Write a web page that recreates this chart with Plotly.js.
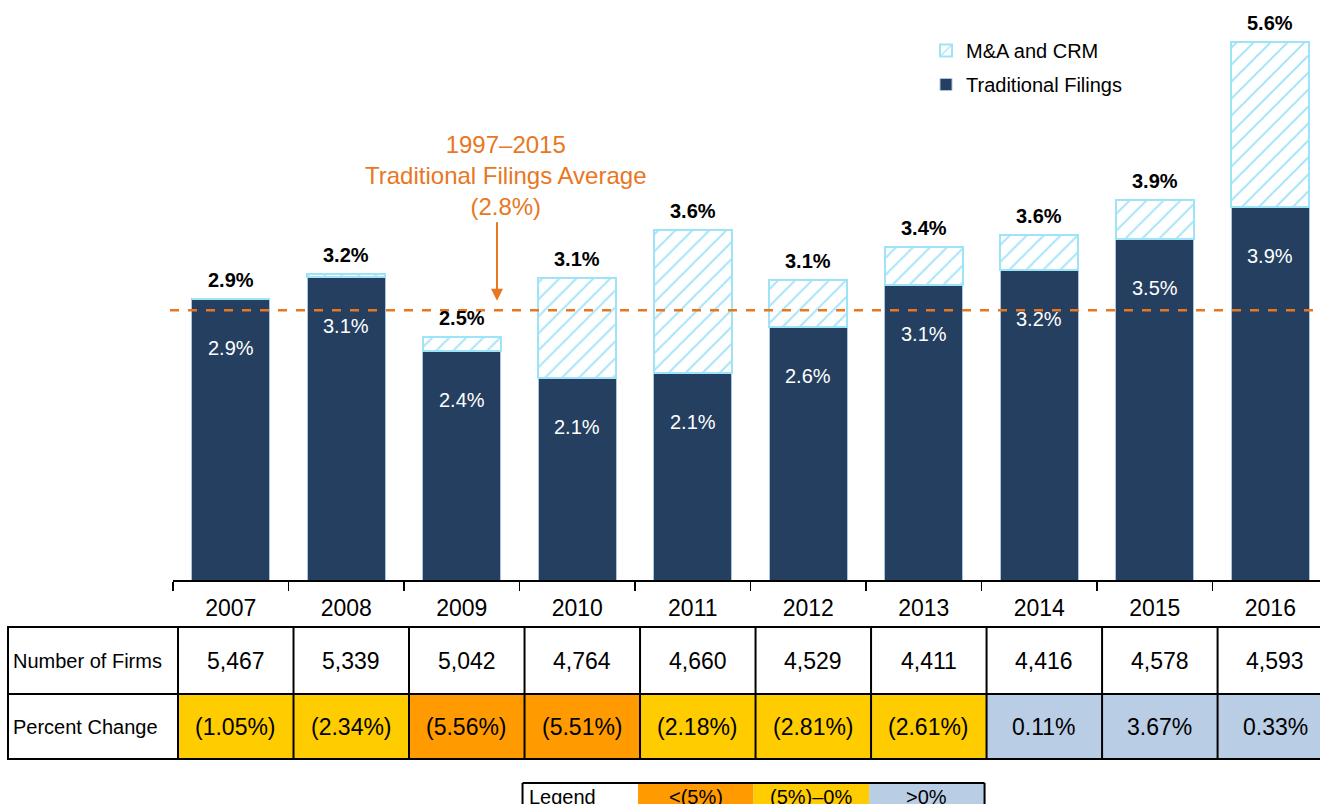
<!DOCTYPE html>
<html>
<head>
<meta charset="utf-8">
<script src="https://cdn.plot.ly/plotly-3.0.1.min.js"></script>
<style>html,body{margin:0;padding:0;background:#fff;}#chart{width:1320px;height:804px;}</style>
</head>
<body>
<div id="chart"></div>
<script>
// ---- data ----
var years = ['2007','2008','2009','2010','2011','2012','2013','2014','2015','2016'];
var traditionalPct = [2.92, 3.15, 2.38, 2.10, 2.15, 2.63, 3.06, 3.22, 3.54, 3.87];
var mnaCrmPct = [0.00, 0.03, 0.14, 1.04, 1.48, 0.49, 0.40, 0.36, 0.41, 1.72];
var traditionalLabels = ['2.9%','3.1%','2.4%','2.1%','2.1%','2.6%','3.1%','3.2%','3.5%','3.9%'];
var totalLabels = ['2.9%','3.2%','2.5%','3.1%','3.6%','3.1%','3.4%','3.6%','3.9%','5.6%'];
var numberOfFirms = ['5,467','5,339','5,042','4,764','4,660','4,529','4,411','4,416','4,578','4,593'];
var percentChange = [-1.05, -2.34, -5.56, -5.51, -2.18, -2.81, -2.61, 0.11, 3.67, 0.33];
var percentChangeLabels = ['(1.05%)','(2.34%)','(5.56%)','(5.51%)','(2.18%)','(2.81%)','(2.61%)','0.11%','3.67%','0.33%'];
var averageTraditional = 2.8;
var legendLabels = ['Legend','<(5%)','(5%)–0%','>0%'];

// ---- styling / geometry ----
var FONT = 'Liberation Sans, Arial, sans-serif';
var NAVY = '#253f60', HATCH = '#9fe3f8', ORANGE = '#e8771f';
var C_LOW = '#ff9a00', C_MID = '#ffcc00', C_POS = '#b9cde5';
var W = 1320, H = 804, mL = 173, mR = 0, mT = 20, mB = 224;
var xr = [-0.5, 9.43];
var plotH = H - mT - mB, plotW = W - mL - mR;
var yr = [0, plotH / 96.3];
function xp(v){ return (v - xr[0]) / (xr[1] - xr[0]); }      // data x -> paper
function xpx(px){ return (px - mL) / plotW; }                  // pixel -> paper x
function ypx(py){ return (H - mB - py) / plotH; }              // pixel -> paper y
function colorFor(v){ return v <= -5 ? C_LOW : (v < 0 ? C_MID : C_POS); }

var totals = traditionalPct.map(function(v,i){ return v + mnaCrmPct[i]; });

var traces = [
  {type:'bar', x: years, y: traditionalPct, name:'Traditional Filings', legendgroup:'trad', legendrank: 2,
   marker:{color: NAVY, line:{color:'#a9c4e0', width:1}}, width:0.675, hoverinfo:'skip'},
  {type:'bar', x: years, y: mnaCrmPct, name:'M&A and CRM', legendgroup:'mna', legendrank: 1,
   marker:{color:'#ffffff', line:{color: HATCH, width:2},
     pattern:{shape:'/', fgcolor: HATCH, bgcolor:'#ffffff', size:12, solidity:0.16}},
   width:0.675, hoverinfo:'skip'}
];

var shapes = [], annotations = [];

// average line
shapes.push({type:'line', xref:'paper', yref:'y', x0: xpx(170), x1: 1, y0: averageTraditional, y1: averageTraditional,
  line:{color: ORANGE, width:2.5, dash:'dash'}});

// bar labels
years.forEach(function(yr_, i){
  annotations.push({x: i, y: totals[i], xref:'x', yref:'y', text:'<b>'+totalLabels[i]+'</b>', showarrow:false,
    xanchor:'center', yanchor:'bottom', yshift:6, font:{family:FONT, size:20, color:'#000'}});
  annotations.push({x: i, y: traditionalPct[i], xref:'x', yref:'y', text: traditionalLabels[i], showarrow:false,
    xanchor:'center', yanchor:'top', yshift:-36, font:{family:FONT, size:20, color:'#ffffff'}});
});

// average annotation text + arrow
annotations.push({xref:'paper', yref:'paper', x: xpx(505), y: ypx(175), text:'1997–2015<br>Traditional Filings Average<br>(2.8%)',
  showarrow:false, xanchor:'center', yanchor:'middle', align:'center', font:{family:FONT, size:24, color: ORANGE}});
annotations.push({xref:'paper', yref:'y', x: xpx(497), y: averageTraditional + 0.1, text:'', showarrow:true,
  ax:0, ay:-80, arrowhead:2, arrowsize:1.2, arrowwidth:2, arrowcolor: ORANGE});

// ---- table ----
var tTop = 627, tMid = 694, tBot = 759, tLeft = 8, off = 5;
function colEdge(k){ return xp(k - 0.5) + off/plotW; }
years.forEach(function(y_, i){
  shapes.push({type:'rect', xref:'paper', yref:'paper', x0: colEdge(i), x1: colEdge(i+1), y0: ypx(tMid), y1: ypx(tBot),
    fillcolor: colorFor(percentChange[i]), line:{width:0}, layer:'below'});
  annotations.push({xref:'paper', yref:'paper', x: (colEdge(i)+colEdge(i+1))/2, y: ypx((tTop+tMid)/2), text: numberOfFirms[i],
    showarrow:false, xanchor:'center', yanchor:'middle', font:{family:FONT, size:23, color:'#000'}});
  annotations.push({xref:'paper', yref:'paper', x: (colEdge(i)+colEdge(i+1))/2, y: ypx((tMid+tBot)/2), text: percentChangeLabels[i],
    showarrow:false, xanchor:'center', yanchor:'middle', font:{family:FONT, size:23, color:'#000'}});
});
annotations.push({xref:'paper', yref:'paper', x: xpx(tLeft+3), y: ypx((tTop+tMid)/2), text:'Number of Firms',
  showarrow:false, xanchor:'left', yanchor:'middle', font:{family:FONT, size:20, color:'#000'}});
annotations.push({xref:'paper', yref:'paper', x: xpx(tLeft+3), y: ypx((tMid+tBot)/2), text:'Percent Change',
  showarrow:false, xanchor:'left', yanchor:'middle', font:{family:FONT, size:20, color:'#000'}});
[tTop, tMid, tBot].forEach(function(py){
  shapes.push({type:'line', xref:'paper', yref:'paper', x0: xpx(tLeft-1), x1: 1.01, y0: ypx(py), y1: ypx(py), line:{color:'#000', width:2}});
});
shapes.push({type:'line', xref:'paper', yref:'paper', x0: xpx(tLeft), x1: xpx(tLeft), y0: ypx(tTop), y1: ypx(tBot), line:{color:'#000', width:2}});
for (var k = 0; k <= years.length; k++) {
  shapes.push({type:'line', xref:'paper', yref:'paper', x0: colEdge(k), x1: colEdge(k), y0: ypx(tTop), y1: ypx(tBot), line:{color:'#000', width:2}});
}

// ---- colour legend box (bottom, partly below the page edge as in the original) ----
var lgTop = 783, lgBot = 815, lgOff = -2;
var lgColors = ['#ffffff', C_LOW, C_MID, C_POS];
for (var j = 0; j < 4; j++) {
  var x0 = colEdge(3 + j) + lgOff/plotW, x1 = colEdge(4 + j) + lgOff/plotW;
  shapes.push({type:'rect', xref:'paper', yref:'paper', x0: x0, x1: x1, y0: ypx(lgBot), y1: ypx(lgTop),
    fillcolor: lgColors[j], line:{width:0}, layer:'below'});
  annotations.push({xref:'paper', yref:'paper', x: j === 0 ? x0 + 4/plotW : (x0+x1)/2, y: ypx(797), text: legendLabels[j],
    showarrow:false, xanchor: j === 0 ? 'left' : 'center', yanchor:'middle', font:{family:FONT, size:20, color:'#000'}});
}
var lgL = colEdge(3) + lgOff/plotW, lgR = colEdge(7) + lgOff/plotW;
shapes.push({type:'line', xref:'paper', yref:'paper', x0: lgL, x1: lgR, y0: ypx(lgTop), y1: ypx(lgTop), line:{color:'#000', width:2}});
shapes.push({type:'line', xref:'paper', yref:'paper', x0: lgL, x1: lgL, y0: ypx(lgTop), y1: ypx(lgBot), line:{color:'#000', width:2}});
shapes.push({type:'line', xref:'paper', yref:'paper', x0: lgR, x1: lgR, y0: ypx(lgTop), y1: ypx(lgBot), line:{color:'#000', width:2}});

var layout = {
  width: W, height: H,
  margin: {l: mL, r: mR, t: mT, b: mB, pad: 0},
  paper_bgcolor: '#ffffff', plot_bgcolor: '#ffffff',
  barmode: 'stack',
  font: {family: FONT, color: '#000'},
  xaxis: {type:'category', range: xr, tickson:'boundaries', ticks:'outside', ticklen:9, tickwidth:1.5, tickcolor:'#000',
    showline:true, linecolor:'#000', linewidth:1.5, showgrid:false, zeroline:false, fixedrange:true,
    ticklabelstandoff: 7, tickfont:{family:FONT, size:23, color:'#000'}},
  yaxis: {range: yr, visible:false, showgrid:false, zeroline:false, fixedrange:true},
  showlegend: true,
  legend: {x: xpx(926), y: ypx(31), xanchor:'left', yanchor:'top', traceorder:'grouped', tracegroupgap:5,
    bgcolor:'rgba(0,0,0,0)', font:{family:FONT, size:20, color:'#000'}, itemwidth:30},
  shapes: shapes,
  annotations: annotations
};

Plotly.newPlot('chart', traces, layout, {displayModeBar:false, staticPlot:true});
</script>
</body>
</html>
